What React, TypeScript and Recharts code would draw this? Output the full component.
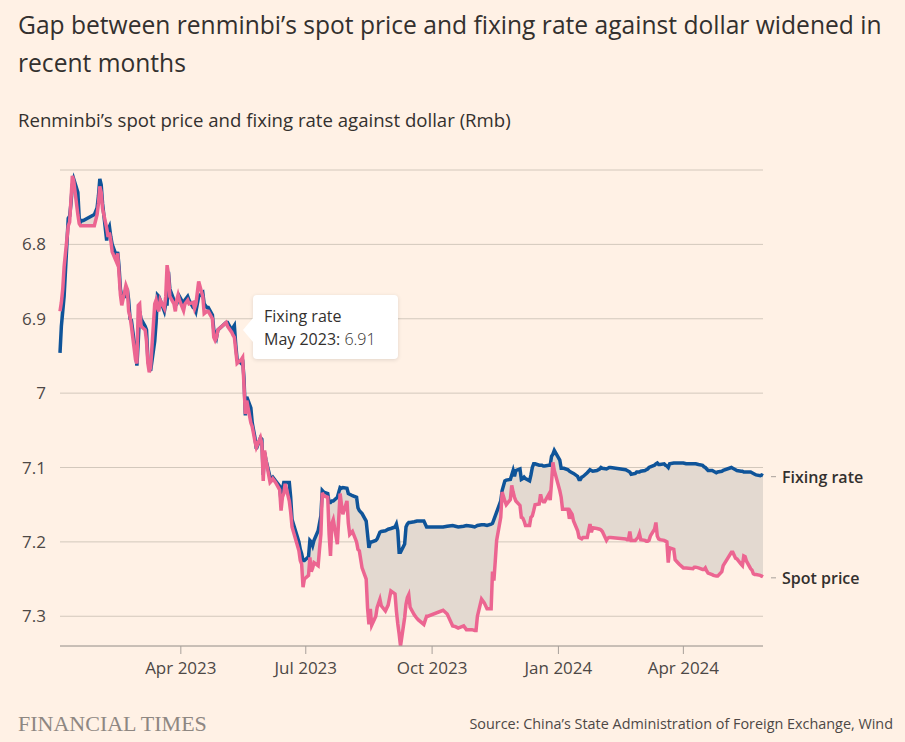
import React from "react";
import {
  ComposedChart,
  Line,
  Area,
  XAxis,
  YAxis,
  CartesianGrid,
  ReferenceDot,
} from "recharts";

const dates = [
  "2023-01-03", "2023-01-04", "2023-01-05", "2023-01-06", "2023-01-09", "2023-01-10", "2023-01-11", "2023-01-12",
  "2023-01-13", "2023-01-16", "2023-01-17", "2023-01-18", "2023-01-19", "2023-01-20", "2023-01-28", "2023-01-30",
  "2023-01-31", "2023-02-01", "2023-02-02", "2023-02-03", "2023-02-06", "2023-02-07", "2023-02-08", "2023-02-09",
  "2023-02-10", "2023-02-13", "2023-02-14", "2023-02-15", "2023-02-16", "2023-02-17", "2023-02-20", "2023-02-21",
  "2023-02-22", "2023-02-23", "2023-02-24", "2023-02-27", "2023-02-28", "2023-03-01", "2023-03-02", "2023-03-03",
  "2023-03-06", "2023-03-07", "2023-03-08", "2023-03-09", "2023-03-10", "2023-03-13", "2023-03-14", "2023-03-15",
  "2023-03-16", "2023-03-17", "2023-03-20", "2023-03-21", "2023-03-22", "2023-03-23", "2023-03-24", "2023-03-27",
  "2023-03-28", "2023-03-29", "2023-03-30", "2023-03-31", "2023-04-03", "2023-04-04", "2023-04-06", "2023-04-07",
  "2023-04-10", "2023-04-11", "2023-04-12", "2023-04-13", "2023-04-14", "2023-04-17", "2023-04-18", "2023-04-20",
  "2023-04-21", "2023-04-24", "2023-04-25", "2023-04-26", "2023-04-27", "2023-04-28", "2023-05-04", "2023-05-05",
  "2023-05-08", "2023-05-09", "2023-05-10", "2023-05-11", "2023-05-12", "2023-05-15", "2023-05-16", "2023-05-17",
  "2023-05-18", "2023-05-19", "2023-05-22", "2023-05-23", "2023-05-24", "2023-05-25", "2023-05-26", "2023-05-29",
  "2023-05-30", "2023-05-31", "2023-06-01", "2023-06-02", "2023-06-05", "2023-06-06", "2023-06-07", "2023-06-09",
  "2023-06-12", "2023-06-13", "2023-06-14", "2023-06-15", "2023-06-16", "2023-06-19", "2023-06-20", "2023-06-21",
  "2023-06-26", "2023-06-27", "2023-06-28", "2023-06-29", "2023-06-30", "2023-07-03", "2023-07-04", "2023-07-05",
  "2023-07-06", "2023-07-07", "2023-07-10", "2023-07-11", "2023-07-12", "2023-07-13", "2023-07-14", "2023-07-17",
  "2023-07-18", "2023-07-19", "2023-07-20", "2023-07-21", "2023-07-24", "2023-07-26", "2023-07-27", "2023-07-28",
  "2023-07-31", "2023-08-01", "2023-08-02", "2023-08-04", "2023-08-07", "2023-08-08", "2023-08-09", "2023-08-11",
  "2023-08-14", "2023-08-15", "2023-08-16", "2023-08-17", "2023-08-18", "2023-08-21", "2023-08-22", "2023-08-24",
  "2023-08-25", "2023-08-28", "2023-08-30", "2023-09-01", "2023-09-04", "2023-09-05", "2023-09-06", "2023-09-07",
  "2023-09-08", "2023-09-11", "2023-09-12", "2023-09-13", "2023-09-14", "2023-09-15", "2023-09-18", "2023-09-20",
  "2023-09-21", "2023-09-25", "2023-09-27", "2023-09-28", "2023-10-09", "2023-10-12", "2023-10-16", "2023-10-18",
  "2023-10-20", "2023-10-24", "2023-10-26", "2023-10-30", "2023-11-01", "2023-11-02", "2023-11-03", "2023-11-06",
  "2023-11-08", "2023-11-10", "2023-11-13", "2023-11-14", "2023-11-15", "2023-11-16", "2023-11-17", "2023-11-20",
  "2023-11-21", "2023-11-23", "2023-11-24", "2023-11-27", "2023-11-28", "2023-11-29", "2023-11-30", "2023-12-01",
  "2023-12-04", "2023-12-05", "2023-12-06", "2023-12-07", "2023-12-08", "2023-12-11", "2023-12-12", "2023-12-13",
  "2023-12-14", "2023-12-15", "2023-12-18", "2023-12-19", "2023-12-20", "2023-12-21", "2023-12-22", "2023-12-25",
  "2023-12-26", "2023-12-27", "2023-12-28", "2023-12-29", "2024-01-02", "2024-01-03", "2024-01-04", "2024-01-05",
  "2024-01-08", "2024-01-09", "2024-01-10", "2024-01-11", "2024-01-12", "2024-01-15", "2024-01-16", "2024-01-17",
  "2024-01-18", "2024-01-19", "2024-01-22", "2024-01-23", "2024-01-24", "2024-01-25", "2024-01-26", "2024-01-29",
  "2024-01-31", "2024-02-01", "2024-02-02", "2024-02-05", "2024-02-06", "2024-02-07", "2024-02-08", "2024-02-19",
  "2024-02-20", "2024-02-21", "2024-02-22", "2024-02-23", "2024-02-26", "2024-02-27", "2024-02-28", "2024-02-29",
  "2024-03-01", "2024-03-04", "2024-03-05", "2024-03-06", "2024-03-07", "2024-03-08", "2024-03-11", "2024-03-12",
  "2024-03-13", "2024-03-14", "2024-03-15", "2024-03-18", "2024-03-19", "2024-03-20", "2024-03-21", "2024-03-22",
  "2024-03-25", "2024-03-26", "2024-03-27", "2024-03-28", "2024-03-29", "2024-04-01", "2024-04-03", "2024-04-08",
  "2024-04-09", "2024-04-10", "2024-04-12", "2024-04-15", "2024-04-16", "2024-04-17", "2024-04-18", "2024-04-19",
  "2024-04-22", "2024-04-23", "2024-04-25", "2024-04-26", "2024-04-29", "2024-04-30", "2024-05-06", "2024-05-07",
  "2024-05-08", "2024-05-09", "2024-05-10", "2024-05-13", "2024-05-14", "2024-05-15", "2024-05-16", "2024-05-17",
  "2024-05-20", "2024-05-21", "2024-05-22", "2024-05-23", "2024-05-24", "2024-05-27", "2024-05-28", "2024-05-29",
];

const fixingRate = [
  6.946, 6.91, 6.89, 6.87, 6.765, 6.762, 6.745, 6.72,
  6.712, 6.73, 6.765, 6.77, 6.768, 6.768, 6.76, 6.751,
  6.735, 6.712, 6.72, 6.745, 6.795, 6.78, 6.776, 6.79,
  6.8, 6.815, 6.81, 6.83, 6.86, 6.87, 6.87, 6.86,
  6.875, 6.9, 6.902, 6.945, 6.963, 6.93, 6.89, 6.9,
  6.91, 6.915, 6.955, 6.965, 6.97, 6.93, 6.905, 6.868,
  6.87, 6.875, 6.89, 6.88, 6.88, 6.837, 6.86, 6.875,
  6.88, 6.88, 6.875, 6.87, 6.88, 6.875, 6.87, 6.875,
  6.885, 6.885, 6.89, 6.88, 6.87, 6.865, 6.88, 6.885,
  6.885, 6.895, 6.915, 6.92, 6.925, 6.915, 6.905, 6.905,
  6.915, 6.912, 6.909, 6.935, 6.955, 6.96, 6.955, 6.98,
  7.03, 7.005, 7.02, 7.04, 7.05, 7.06, 7.075, 7.06,
  7.062, 7.11, 7.08, 7.09, 7.113, 7.115, 7.113, 7.118,
  7.125, 7.145, 7.13, 7.12, 7.12, 7.12, 7.14, 7.17,
  7.2, 7.21, 7.216, 7.225, 7.225, 7.22, 7.198, 7.2,
  7.205, 7.198, 7.185, 7.175, 7.165, 7.131, 7.133, 7.135,
  7.147, 7.147, 7.145, 7.145, 7.14, 7.127, 7.128, 7.127,
  7.128, 7.135, 7.136, 7.138, 7.14, 7.154, 7.158, 7.162,
  7.172, 7.19, 7.208, 7.2, 7.2, 7.198, 7.196, 7.187,
  7.186, 7.185, 7.183, 7.182, 7.18, 7.176, 7.185, 7.214,
  7.214, 7.203, 7.18, 7.176, 7.174, 7.174, 7.173, 7.172,
  7.172, 7.172, 7.18, 7.18, 7.18, 7.179, 7.178, 7.179,
  7.18, 7.179, 7.178, 7.179, 7.18, 7.179, 7.178, 7.177,
  7.177, 7.178, 7.176, 7.175, 7.17, 7.165, 7.16, 7.145,
  7.131, 7.118, 7.117, 7.116, 7.11, 7.104, 7.112, 7.104,
  7.102, 7.116, 7.115, 7.113, 7.115, 7.118, 7.11, 7.1,
  7.095, 7.095, 7.097, 7.097, 7.097, 7.098, 7.098, 7.097,
  7.097, 7.085, 7.082, 7.077, 7.09, 7.101, 7.101, 7.101,
  7.103, 7.105, 7.106, 7.107, 7.108, 7.112, 7.116, 7.116,
  7.113, 7.112, 7.107, 7.105, 7.103, 7.104, 7.105, 7.104,
  7.102, 7.1, 7.101, 7.102, 7.101, 7.1, 7.1, 7.103,
  7.104, 7.105, 7.106, 7.109, 7.108, 7.106, 7.106, 7.106,
  7.105, 7.104, 7.103, 7.102, 7.1, 7.099, 7.097, 7.095,
  7.094, 7.096, 7.096, 7.095, 7.097, 7.098, 7.1, 7.095,
  7.094, 7.094, 7.094, 7.094, 7.094, 7.094, 7.095, 7.095,
  7.095, 7.095, 7.096, 7.097, 7.099, 7.1, 7.102, 7.104,
  7.104, 7.105, 7.107, 7.106, 7.105, 7.104, 7.1, 7.101,
  7.102, 7.103, 7.104, 7.105, 7.105, 7.106, 7.106, 7.106,
  7.106, 7.107, 7.108, 7.109, 7.11, 7.111, 7.11, 7.111,
];

const spotPrice = [
  6.89, 6.878, 6.86, 6.83, 6.775, 6.77, 6.74, 6.708,
  6.715, 6.76, 6.772, 6.775, 6.775, 6.775, 6.775, 6.76,
  6.745, 6.722, 6.73, 6.752, 6.778, 6.79, 6.784, 6.795,
  6.81, 6.823, 6.812, 6.84, 6.868, 6.882, 6.855, 6.86,
  6.89, 6.897, 6.91, 6.955, 6.96, 6.882, 6.88, 6.91,
  6.915, 6.93, 6.96, 6.972, 6.965, 6.88, 6.875, 6.885,
  6.89, 6.875, 6.886, 6.87, 6.828, 6.84, 6.87, 6.88,
  6.89, 6.875, 6.868, 6.875, 6.889, 6.88, 6.875, 6.88,
  6.878, 6.886, 6.88, 6.865, 6.85, 6.87, 6.893, 6.89,
  6.89, 6.9, 6.925, 6.929, 6.925, 6.915, 6.905, 6.91,
  6.918, 6.922, 6.925, 6.942, 6.96, 6.955, 6.952, 6.99,
  7.028, 7.01, 7.04, 7.045, 7.055, 7.065, 7.073, 7.06,
  7.068, 7.118, 7.077, 7.09, 7.12, 7.118, 7.115, 7.12,
  7.13, 7.158, 7.14, 7.135, 7.122, 7.145, 7.16, 7.18,
  7.212, 7.225, 7.23, 7.261, 7.25, 7.245, 7.221, 7.24,
  7.235, 7.228, 7.232, 7.21, 7.19, 7.134, 7.138, 7.14,
  7.19, 7.219, 7.175, 7.17, 7.203, 7.135, 7.15, 7.163,
  7.145, 7.175, 7.19, 7.186, 7.2, 7.21, 7.212, 7.235,
  7.25, 7.289, 7.311, 7.29, 7.312, 7.3, 7.288, 7.277,
  7.286, 7.293, 7.285, 7.266, 7.27, 7.293, 7.31, 7.324,
  7.34, 7.302, 7.284, 7.275, 7.271, 7.288, 7.298, 7.303,
  7.305, 7.311, 7.3, 7.3, 7.292, 7.297, 7.313, 7.314,
  7.316, 7.313, 7.318, 7.318, 7.319, 7.319, 7.3, 7.277,
  7.282, 7.29, 7.29, 7.24, 7.252, 7.226, 7.198, 7.167,
  7.133, 7.145, 7.15, 7.143, 7.124, 7.133, 7.14, 7.145,
  7.151, 7.167, 7.168, 7.172, 7.178, 7.178, 7.167, 7.165,
  7.158, 7.15, 7.149, 7.136, 7.144, 7.146, 7.146, 7.136,
  7.144, 7.12, 7.093, 7.104, 7.131, 7.14, 7.156, 7.156,
  7.156, 7.169, 7.16, 7.163, 7.172, 7.185, 7.194, 7.195,
  7.196, 7.194, 7.194, 7.185, 7.176, 7.187, 7.181, 7.182,
  7.183, 7.184, 7.186, 7.198, 7.195, 7.194, 7.194, 7.196,
  7.197, 7.197, 7.186, 7.198, 7.198, 7.196, 7.194, 7.189,
  7.197, 7.198, 7.199, 7.199, 7.198, 7.192, 7.183, 7.174,
  7.192, 7.196, 7.197, 7.198, 7.199, 7.2, 7.228, 7.208,
  7.21, 7.224, 7.226, 7.228, 7.23, 7.235, 7.235, 7.236,
  7.234, 7.234, 7.235, 7.237, 7.237, 7.235, 7.239, 7.242,
  7.244, 7.245, 7.246, 7.246, 7.24, 7.232, 7.214, 7.214,
  7.218, 7.222, 7.223, 7.23, 7.232, 7.219, 7.22, 7.226,
  7.236, 7.238, 7.243, 7.244, 7.244, 7.245, 7.246, 7.247,
];

const tickDates = ["2023-04-01", "2023-07-01", "2023-10-01", "2024-01-01", "2024-04-01"];
const tickLabels = ["Apr 2023", "Jul 2023", "Oct 2023", "Jan 2024", "Apr 2024"];
const yTicks = [6.8, 6.9, 7, 7.1, 7.2, 7.3];

const BG = "#fff1e5";
const BLUE = "#0f5499";
const PINK = "#ec6591";
const FONT = "'Open Sans', 'Noto Sans', sans-serif";

const data = dates.map((d, i) => ({
  t: Date.parse(d),
  fixing: fixingRate[i],
  spot: spotPrice[i],
  gap: [fixingRate[i], spotPrice[i]],
}));

const tickTimes = tickDates.map((d) => Date.parse(d));
const last = data[data.length - 1];

const endLabel = (text: string) => (props: any) => {
  const { cx, cy } = props;
  return (
    <g>
      <line x1={cx + 8} x2={cx + 13} y1={cy + 1} y2={cy + 1} stroke="#a8a09a" strokeWidth={1} />
      <text x={cx + 19} y={cy + 1} dominantBaseline="central" fill="#33302e" fontSize={16} fontWeight={600} fontFamily={FONT}>
        {text}
      </text>
    </g>
  );
};

export default function App() {
  return (
    <div style={{ position: "absolute", left: 0, top: 0, width: 905, height: 742, background: BG, fontFamily: FONT, color: "#33302e", overflow: "hidden" }}>
      <div style={{ position: "absolute", left: 18, top: 6, width: 880, fontSize: 24.6, lineHeight: "38px" }}>
        Gap between renminbi’s spot price and fixing rate against dollar widened in recent months
      </div>
      <div style={{ position: "absolute", left: 18, top: 107, fontSize: 18.6, lineHeight: "26px" }}>
        Renminbi’s spot price and fixing rate against dollar (Rmb)
      </div>

      <div style={{ position: "absolute", left: 0, top: 0 }}>
        <ComposedChart width={905} height={742} data={data} margin={{ top: 170, right: 142, bottom: 66, left: 0 }}>
          <CartesianGrid vertical={false} stroke="#d3c8bc" />
          <XAxis
            dataKey="t"
            type="number"
            scale="time"
            domain={[data[0].t, last.t]}
            ticks={tickTimes}
            tickFormatter={(v: number) => tickLabels[tickTimes.indexOf(v)]}
            axisLine={{ stroke: "#a8a09a" }}
            tickLine={{ stroke: "#a8a09a" }}
            tickSize={8}
            tickMargin={8}
            tick={{ fill: "#4d4845", fontSize: 17, fontFamily: FONT }}
            height={30}
          />
          <YAxis
            type="number"
            reversed
            domain={[6.7, 7.34]}
            allowDataOverflow
            ticks={yTicks}
            width={60}
            axisLine={false}
            tickLine={false}
            tickSize={0}
            tickMargin={14}
            tick={{ fill: "#4d4845", fontSize: 17, fontFamily: FONT }}
          />
          <Area dataKey="gap" stroke="none" fill="#e3d9d0" fillOpacity={1} isAnimationActive={false} />
          <Line dataKey="fixing" stroke={BLUE} strokeWidth={3.5} dot={false} isAnimationActive={false} />
          <Line dataKey="spot" stroke={PINK} strokeWidth={3.5} dot={false} isAnimationActive={false} />
          <ReferenceDot x={last.t} y={last.fixing} r={0} shape={endLabel("Fixing rate")} />
          <ReferenceDot x={last.t} y={last.spot} r={0} shape={endLabel("Spot price")} />
        </ComposedChart>
      </div>

      {/* annotation box */}
      <div
        style={{
          position: "absolute",
          left: 253,
          top: 295,
          width: 145,
          height: 64,
          background: "#ffffff",
          borderRadius: 4,
          boxShadow: "0 1px 4px rgba(0,0,0,0.12)",
          boxSizing: "border-box",
          padding: "10px 0 0 11px",
          fontSize: 16,
          lineHeight: "23px",
        }}
      >
        <div
          style={{
            position: "absolute",
            left: -10,
            top: 23,
            width: 0,
            height: 0,
            borderTop: "12px solid transparent",
            borderBottom: "12px solid transparent",
            borderRight: "10px solid #ffffff",
          }}
        />
        <div style={{ fontWeight: 500 }}>Fixing rate</div>
        <div style={{ whiteSpace: "nowrap" }}>
          <span style={{ fontWeight: 500 }}>May 2023:</span> <span style={{ fontWeight: 300 }}>6.91</span>
        </div>
      </div>

      <div style={{ position: "absolute", left: 18, top: 711, fontFamily: "'Liberation Serif', serif", fontSize: 22, color: "#8e8782" }}>
        FINANCIAL TIMES
      </div>
      <div style={{ position: "absolute", right: 12, top: 714, fontSize: 14.4, color: "#4d4845" }}>
        Source: China’s State Administration of Foreign Exchange, Wind
      </div>
    </div>
  );
}
